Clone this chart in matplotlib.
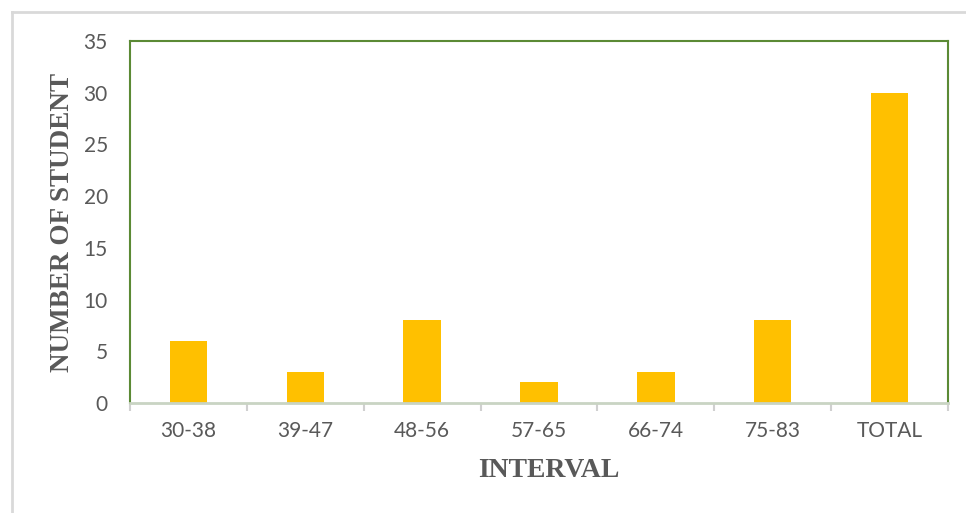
import matplotlib.pyplot as plt
from matplotlib.lines import Line2D

intervals = ["30-38", "39-47", "48-56", "57-65", "66-74", "75-83", "TOTAL"]
students = [6, 3, 8, 2, 3, 8, 30]
y_ticks = [0, 5, 10, 15, 20, 25, 30, 35]

fig = plt.figure(figsize=(9.66, 5.13), dpi=100)
ax = fig.add_axes([130 / 966, 1 - 403 / 513, 818 / 966, 362 / 513])

ax.bar(range(len(intervals)), students, width=0.32, color="#FFC000", zorder=2)

ax.set_xlim(-0.5, len(intervals) - 0.5)
ax.set_ylim(0, 35)
ax.set_yticks(y_ticks)
ax.set_xticks(range(len(intervals)))
ax.set_xticklabels(intervals)

# green frame around the plot area, pale axis line at the bottom
for side in ["top", "left", "right"]:
    ax.spines[side].set_color("#5B8A35")
    ax.spines[side].set_linewidth(1.5)
ax.spines["bottom"].set_color("#C9D4C3")
ax.spines["bottom"].set_linewidth(2)

# tick marks sit between categories on the x axis
ax.set_xticks([i - 0.5 for i in range(len(intervals) + 1)], minor=True)
ax.tick_params(axis="x", which="major", length=0, pad=13)
ax.tick_params(axis="x", which="minor", length=6, width=1.5, color="#D0D0D0")
ax.tick_params(axis="y", length=0, pad=16)
for lbl in ax.get_xticklabels() + ax.get_yticklabels():
    lbl.set_fontfamily("Lato")
    lbl.set_fontsize(15)
    lbl.set_color("#595959")

ax.set_xlabel("INTERVAL", fontfamily="Liberation Serif", fontweight="bold",
              fontsize=20, color="#595959")
ax.xaxis.set_label_coords(0.512, -0.152)
ax.set_ylabel("NUMBER OF STUDENT", fontfamily="Liberation Serif", fontweight="bold",
              fontsize=19.5, color="#595959", labelpad=6)

# outer chart border
fig.add_artist(Line2D([12 / 966, 12 / 966], [0, 1 - 12 / 513], color="#D9D9D9", lw=2))
fig.add_artist(Line2D([12 / 966, 1], [1 - 12 / 513, 1 - 12 / 513], color="#D9D9D9", lw=2))

fig.savefig("out.png", dpi=100)
